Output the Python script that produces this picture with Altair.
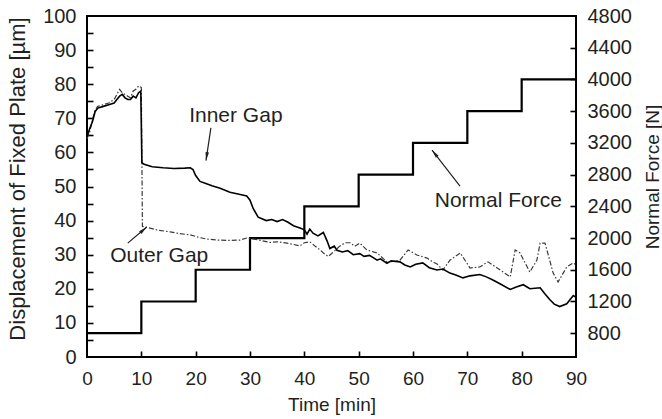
import math
import altair as alt
import pandas as pd

# ---------------- data ----------------
inner_time = [0, 0.5, 1, 1.5, 2, 3, 4, 5, 5.5, 6, 6.5, 7, 7.5, 8, 8.5, 9, 9.5, 9.9,
              10.1, 10.5, 12, 14, 16, 18, 19, 19.5, 20, 20.8, 22, 23, 24.5, 26.3, 28,
              29.4, 30, 30.6, 31.5, 33, 34, 35, 36, 37, 38, 39.2, 40, 40.5, 41, 41.6,
              42.5, 43.5, 44.2, 44.7, 45.5, 46, 47, 48, 49, 50.2, 51, 52, 53.4, 54,
              55.2, 56, 57.6, 58.5, 59.5, 60.5, 61.8, 63, 64.4, 65.5, 66.8, 68, 69.2,
              70.5, 72.3, 73.5, 74.7, 76, 77.9, 79, 80.3, 81.5, 83.4, 84.3, 85.2, 86,
              87, 88.3, 89.5, 90]
inner_gap = [64.5, 67, 69, 72, 73, 73.5, 74, 74.5, 75.5, 76.5, 77, 76, 75.5, 75.5, 76.5,
             76, 77.5, 78,
             57, 56.5, 55.8, 55.5, 55.3, 55.4, 55.5, 55, 53.2, 51.5, 50.8, 50.2, 49.5,
             48.3, 47.7, 47.2, 46, 43.5, 41, 40, 40.3, 39.7, 40.3, 39.5, 38.5, 37.8,
             37.3, 36, 37.5, 36.3, 35.5, 36.5, 34, 31.8, 32.5, 31.3, 30.8, 31.2, 30,
             30.3, 29.5, 29.8, 28.4, 28.8, 27.5, 28.2, 27.9, 27, 26.4, 27.2, 27.6, 26.2,
             25.5, 25.8, 24.6, 24, 23.2, 23.8, 24.2, 23.5, 22.6, 21.5, 19.8, 20.5, 21.2,
             20, 20.3, 18.5, 16.8, 15.5, 14.8, 15.6, 18, 17.5]

outer_time = [0, 0.5, 1, 1.5, 2, 3, 4, 5, 5.5, 6, 6.5, 7, 7.5, 8, 8.5, 9, 9.5, 10,
              10.2, 11.6, 13, 15.3, 17, 19, 20.8, 22, 23.9, 26, 28.2, 29.4, 31, 33.7,
              35, 36.8, 38, 39.2, 40, 41, 42, 42.9, 43.5, 44.4, 45.5, 46.5, 47.5, 48.4,
              49.3, 50.2, 51.5, 53.4, 55.2, 56.5, 57.6, 59.1, 60.7, 62.6, 63.1, 64.5,
              65.5, 66.8, 68.7, 70.5, 72.3, 73.8, 75.5, 77.9, 78.8, 79.7, 81.5, 82.8,
              83.4, 84.3, 85.8, 86.7, 88.3, 89.5, 90]
outer_gap = [64, 66, 69.5, 72.5, 73.5, 74, 74.5, 75.5, 77, 78.5, 77.5, 77, 76.5, 76, 78,
             78.5, 79.5, 79,
             38.3, 37.8, 37.2, 36.7, 36.2, 35.8, 35, 34.6, 34.3, 34.2, 34.3, 34.9, 34.5,
             33.6, 33.8, 33.4, 33, 32.6, 33.5, 33.8, 32.5, 31.4, 30.5, 29.5, 31, 32.5,
             33.5, 33.5, 32.5, 33.4, 31.4, 30.5, 27.9, 28, 28.4, 31.4, 29.9, 29, 28.4,
             27.2, 25.5, 28.4, 30.5, 26.1, 26.4, 27.9, 26.1, 23.5, 31.4, 30.5, 24.9,
             28.4, 33.4, 33.4, 24.6, 22, 26.4, 27.6, 27]

force_time = [0, 10, 20, 30, 40, 50, 60, 70, 80, 90]
force_values = [800, 1200, 1600, 2000, 2400, 2800, 3200, 3600, 4000, 4000]

time_labels = [0, 10, 20, 30, 40, 50, 60, 70, 80, 90]
time_minor = [10, 20, 30, 40, 50, 60, 70, 80]
disp_labels = [0, 10, 20, 30, 40, 50, 60, 70, 80, 90, 100]
disp_minor = [5, 10, 15, 20, 25, 30, 35, 40, 45, 50, 55, 60, 65, 70, 75, 80, 85, 90, 95]
force_labels = [800, 1200, 1600, 2000, 2400, 2800, 3200, 3600, 4000, 4400, 4800]
force_minor = [800, 1200, 1600, 2000, 2400, 2800, 3200, 3600, 4000, 4400]

gap_notes = ["Inner Gap", "Outer Gap"]
gap_note_time = [27.4, 13.3]
gap_note_disp = [70.7, 29.6]
gap_arrow_t0 = [22.8, 7.5]
gap_arrow_d0 = [67.2, 33.4]
gap_arrow_t1 = [21.9, 11.0]
gap_arrow_d1 = [57.6, 38.1]

force_note = ["Normal Force"]
force_note_time = [75.7]
force_note_value = [2473]
force_arrow_t0 = [68.65]
force_arrow_f0 = [2656]
force_arrow_t1 = [63.5]
force_arrow_f1 = [3110]

# ---------------- styling ----------------
FONT = "Liberation Sans"
INK = "#231f20"
W, H = 489, 341
T_DOM, D_DOM, F_DOM = [0, 90], [0, 100], [500, 4800]


def tscale():
    return alt.Scale(domain=T_DOM, nice=False, zero=False)


def dscale():
    return alt.Scale(domain=D_DOM, nice=False, zero=False)


def fscale():
    return alt.Scale(domain=F_DOM, nice=False, zero=False)


def head_angle(t0, v0, t1, v1, vspan):
    dx = (t1 - t0) * W / (T_DOM[1] - T_DOM[0])
    dy = -(v1 - v0) * H / vspan
    return math.degrees(math.atan2(dx, -dy)) % 360


inner_df = pd.DataFrame({"t": inner_time, "d": inner_gap})
outer_df = pd.DataFrame({"t": outer_time, "d": outer_gap})
force_df = pd.DataFrame({"t": force_time, "f": force_values})

gap_note_df = pd.DataFrame({"t": gap_note_time, "d": gap_note_disp, "label": gap_notes})
gap_arrow_df = pd.DataFrame({"t0": gap_arrow_t0, "d0": gap_arrow_d0,
                             "t1": gap_arrow_t1, "d1": gap_arrow_d1})
gap_arrow_df["ang"] = [head_angle(a, b, c, d, 100) for a, b, c, d in
                       zip(gap_arrow_t0, gap_arrow_d0, gap_arrow_t1, gap_arrow_d1)]
force_note_df = pd.DataFrame({"t": force_note_time, "f": force_note_value, "label": force_note})
force_arrow_df = pd.DataFrame({"t0": force_arrow_t0, "f0": force_arrow_f0,
                               "t1": force_arrow_t1, "f1": force_arrow_f1})
force_arrow_df["ang"] = [head_angle(a, b, c, d, F_DOM[1] - F_DOM[0]) for a, b, c, d in
                         zip(force_arrow_t0, force_arrow_f0, force_arrow_t1, force_arrow_f1)]

ARROW = "M0,0L0.35,1.7L-0.35,1.7Z"

# ---------------- layers ----------------
inner = alt.Chart(inner_df).mark_line(color="black", strokeWidth=1.6).encode(
    x=alt.X("t:Q", scale=tscale(), axis=alt.Axis(
        orient="bottom", values=time_labels, ticks=False, domain=False, grid=False,
        labelFont=FONT, labelFontSize=19, labelColor=INK, labelPadding=12,
        labelFlush=False, title="Time [min]", titleFont=FONT, titleFontSize=19,
        titleFontWeight="normal", titleColor=INK, titleX=W / 2, titleY=47,
        titleAlign="center", titleBaseline="middle")),
    y=alt.Y("d:Q", scale=dscale(), axis=alt.Axis(
        orient="left", values=disp_labels, ticks=False, domain=False, grid=False,
        labelFont=FONT, labelFontSize=20, labelColor=INK, labelPadding=11,
        labelFlush=False, title="Displacement of Fixed Plate [µm]", titleFont=FONT,
        titleFontSize=22, titleFontWeight="normal", titleColor=INK,
        titleX=-70, titleY=H / 2 - 8, titleAngle=270, titleAlign="center",
        titleBaseline="middle")),
    order="t:Q",
)

outer = alt.Chart(outer_df).mark_line(color="#3a3a3a", strokeWidth=1.2,
                                      strokeDash=[5, 2, 1.5, 2]).encode(
    x=alt.X("t:Q", scale=tscale(), axis=alt.Axis(
        orient="bottom", values=time_minor, labels=False, domain=False, grid=False,
        ticks=True, tickSize=6, tickWidth=1.6, tickColor="black", offset=-6, title=None)),
    y=alt.Y("d:Q", scale=dscale(), axis=alt.Axis(
        orient="left", values=disp_minor, labels=False, domain=False, grid=False,
        ticks=True, tickSize=6, tickWidth=1.6, tickColor="black", offset=-6, title=None)),
    order="t:Q",
)

force = alt.Chart(force_df).mark_line(color="black", strokeWidth=2.2,
                                      interpolate="step-after").encode(
    x=alt.X("t:Q", scale=tscale(), axis=None),
    y=alt.Y("f:Q", scale=fscale(), axis=alt.Axis(
        orient="right", values=force_labels, format="d", ticks=False, domain=False,
        grid=False, labelFont=FONT, labelFontSize=20, labelColor=INK, labelPadding=11,
        labelFlush=False, title="Normal Force [N]", titleFont=FONT, titleFontSize=19,
        titleFontWeight="normal", titleColor=INK, titleAngle=270, titleX=76,
        titleY=H / 2 - 10, titleAlign="center", titleBaseline="middle")),
)

force_text = alt.Chart(force_note_df).mark_text(
    font=FONT, fontSize=21, color=INK, align="center", baseline="middle").encode(
    x=alt.X("t:Q", scale=tscale(), axis=None),
    y=alt.Y("f:Q", scale=fscale(), axis=alt.Axis(
        orient="right", values=force_minor, labels=False, domain=False, grid=False,
        ticks=True, tickSize=6, tickWidth=1.6, tickColor="black", offset=-6, title=None)),
    text="label:N",
)

force_arrow = alt.Chart(force_arrow_df).mark_rule(color=INK, strokeWidth=1.2).encode(
    x=alt.X("t0:Q", scale=tscale(), axis=None), x2="t1:Q",
    y=alt.Y("f0:Q", scale=fscale(), axis=None), y2="f1:Q",
)
force_head = alt.Chart(force_arrow_df).mark_point(
    shape=ARROW, filled=True, size=100, color=INK, opacity=1).encode(
    x=alt.X("t1:Q", scale=tscale(), axis=None),
    y=alt.Y("f1:Q", scale=fscale(), axis=None),
    angle=alt.Angle("ang:Q", scale=None),
)

gap_text = alt.Chart(gap_note_df).mark_text(
    font=FONT, fontSize=21, color=INK, align="center", baseline="middle").encode(
    x=alt.X("t:Q", scale=tscale(), axis=None),
    y=alt.Y("d:Q", scale=dscale(), axis=None),
    text="label:N",
)
gap_arrow = alt.Chart(gap_arrow_df).mark_rule(color=INK, strokeWidth=1.2).encode(
    x=alt.X("t0:Q", scale=tscale(), axis=None), x2="t1:Q",
    y=alt.Y("d0:Q", scale=dscale(), axis=None), y2="d1:Q",
)
gap_head = alt.Chart(gap_arrow_df).mark_point(
    shape=ARROW, filled=True, size=100, color=INK, opacity=1).encode(
    x=alt.X("t1:Q", scale=tscale(), axis=None),
    y=alt.Y("d1:Q", scale=dscale(), axis=None),
    angle=alt.Angle("ang:Q", scale=None),
)

chart = alt.layer(
    force, outer, inner, force_text, force_arrow, force_head, gap_text, gap_arrow, gap_head
).resolve_scale(y="independent").resolve_axis(y="independent", x="independent").properties(
    width=W, height=H,
    autosize=alt.AutoSizeParams(type="none"),
    padding={"left": 87, "top": 16, "right": 86, "bottom": 62},
    background="white",
).configure_view(stroke="black", strokeWidth=2)

chart.save("out.html", embed_options={"renderer": "svg", "actions": False})
